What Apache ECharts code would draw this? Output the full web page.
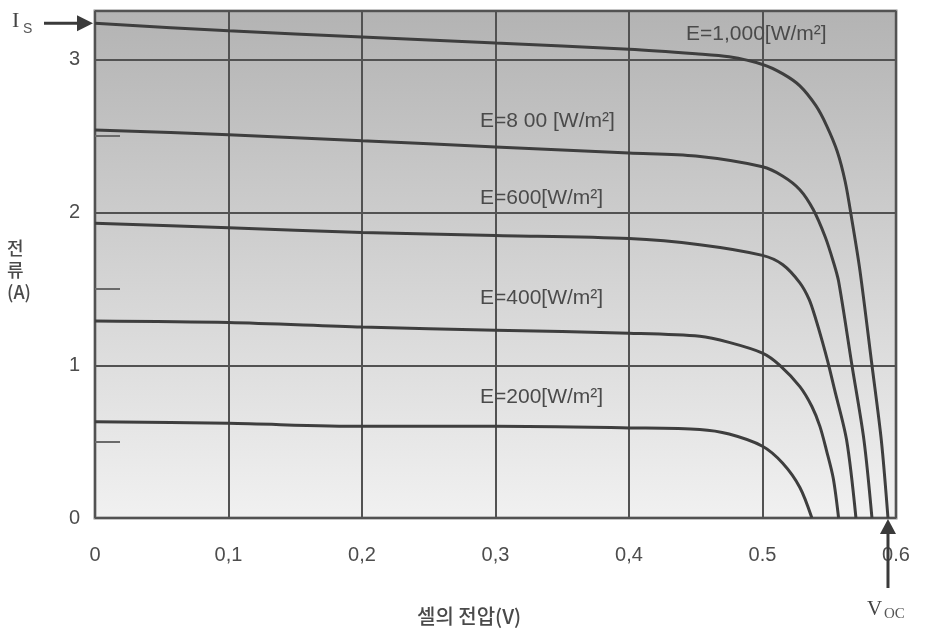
<!DOCTYPE html>
<html>
<head>
<meta charset="utf-8">
<script src="https://cdn.jsdelivr.net/npm/echarts@6/dist/echarts.min.js"></script>
<style>
html,body{margin:0;padding:0;background:#fff;}
#chart{width:932px;height:633px;}
</style>
</head>
<body>
<div id="chart"></div>
<script>
// ---- data ----
const xTickLabels = ['0', '0,1', '0,2', '0,3', '0,4', '0.5', '0.6'];
const yTickLabels = ['0', '1', '2', '3'];

const v1000 = [0, 0.1, 0.2, 0.3, 0.4, 0.45, 0.475, 0.5, 0.515, 0.528, 0.54, 0.548, 0.556, 0.562, 0.567, 0.573, 0.582, 0.589, 0.594];
const i1000 = [3.24, 3.19, 3.15, 3.11, 3.07, 3.04, 3.02, 2.97, 2.91, 2.83, 2.70, 2.57, 2.40, 2.20, 1.95, 1.62, 1.0, 0.51, 0];

const v800 = [0, 0.1, 0.2, 0.3, 0.4, 0.45, 0.5, 0.515, 0.528, 0.538, 0.547, 0.553, 0.557, 0.567, 0.576, 0.582];
const i800 = [2.54, 2.51, 2.47, 2.43, 2.39, 2.37, 2.30, 2.24, 2.15, 2.02, 1.84, 1.68, 1.55, 1.0, 0.51, 0];

const v600 = [0, 0.1, 0.2, 0.3, 0.4, 0.453, 0.5, 0.515, 0.528, 0.535, 0.54, 0.545, 0.549, 0.554, 0.563, 0.57];
const i600 = [1.93, 1.90, 1.87, 1.85, 1.83, 1.79, 1.72, 1.66, 1.54, 1.43, 1.30, 1.15, 1.02, 0.84, 0.51, 0];

const v400 = [0, 0.1, 0.2, 0.3, 0.4, 0.453, 0.475, 0.5, 0.513, 0.528, 0.537, 0.543, 0.548, 0.553, 0.557];
const i400 = [1.29, 1.28, 1.25, 1.23, 1.21, 1.19, 1.15, 1.08, 1.00, 0.86, 0.73, 0.60, 0.44, 0.26, 0];

const v200 = [0, 0.1, 0.2, 0.3, 0.4, 0.453, 0.475, 0.5, 0.515, 0.528, 0.537];
const i200 = [0.63, 0.62, 0.60, 0.60, 0.59, 0.58, 0.55, 0.47, 0.36, 0.20, 0];

const curveLabels = ['E=1,000[W/m²]', 'E=8 00 [W/m²]', 'E=600[W/m²]', 'E=400[W/m²]', 'E=200[W/m²]'];
const isValue = i1000[0];
const vocValue = v1000[v1000.length - 1];

// ---- build ----
function zip(v, i) { return v.map((x, k) => [x, i[k]]); }
const curves = [zip(v1000, i1000), zip(v800, i800), zip(v600, i600), zip(v400, i400), zip(v200, i200)];

const chart = echarts.init(document.getElementById('chart'), null, {renderer: 'canvas'});
const textColor = '#4d4d4d';
const baseFont = 'Liberation Sans, Arial, sans-serif';

const series = curves.map((d, k) => ({
  type: 'line',
  name: curveLabels[k],
  data: d,
  smooth: 0.3,
  showSymbol: false,
  symbol: 'none',
  lineStyle: {color: '#3e3e3e', width: 3},
  z: 5,
  silent: true
}));

const option = {
  animation: false,
  backgroundColor: '#ffffff',
  grid: {
    left: 95, top: 11, right: 36, bottom: 115,
    show: true,
    borderColor: '#8a8a8a',
    borderWidth: 3,
    backgroundColor: new echarts.graphic.LinearGradient(0, 0, 0, 1, [
      {offset: 0, color: '#b3b3b3'},
      {offset: 1, color: '#f1f1f1'}
    ])
  },
  xAxis: {
    type: 'value',
    min: 0, max: 0.6, interval: 0.1,
    axisLine: {show: false},
    axisTick: {show: false},
    splitLine: {show: true, lineStyle: {color: '#525252', width: 2}},
    axisLabel: {
      margin: 27,
      color: textColor,
      fontSize: 20,
      fontFamily: baseFont,
      formatter: v => xTickLabels[Math.round(v / 0.1)]
    }
  },
  yAxis: [{
    type: 'value',
    min: 0, max: 3.32, interval: 1,
    axisLine: {show: false},
    axisTick: {show: false},
    splitLine: {show: true, lineStyle: {color: '#525252', width: 2}},
    axisLabel: {
      margin: 15,
      color: textColor,
      fontSize: 20,
      fontFamily: baseFont,
      showMaxLabel: false,
      formatter: v => (Math.abs(v - Math.round(v)) < 1e-6 ? yTickLabels[Math.round(v)] : '')
    }
  }, {
    type: 'value',
    position: 'left',
    min: 0, max: 3.32, interval: 0.5,
    axisLine: {show: false},
    axisLabel: {show: false},
    splitLine: {show: false},
    axisTick: {show: true, inside: true, length: 25, lineStyle: {color: '#6a6a6a', width: 2},
      customValues: [0.5, 1.5, 2.5]}
  }],
  series: series
};
chart.setOption(option);

// ---- annotations placed with the chart's own scales ----
const pIs = chart.convertToPixel({gridIndex: 0}, [0, isValue]);
const pVoc = chart.convertToPixel({gridIndex: 0}, [vocValue, 0]);
const gBottom = 518;

const labelPos = [[686, 36], [480, 123], [480, 200], [480, 300], [480, 399]];
const graphics = [];
curveLabels.forEach((t, k) => {
  graphics.push({
    type: 'text', left: labelPos[k][0], top: labelPos[k][1] - 12, z: 4,
    style: {text: t, fill: '#4a4a4a', font: '21px ' + baseFont}
  });
});
// Is arrow
graphics.push({type: 'line', z: 10, shape: {x1: 44, y1: pIs[1], x2: 80, y2: pIs[1]}, style: {stroke: '#3a3a3a', lineWidth: 3}});
graphics.push({type: 'polygon', z: 10, shape: {points: [[93, pIs[1]], [77, pIs[1] - 8], [77, pIs[1] + 8]]}, style: {fill: '#3a3a3a'}});
graphics.push({type: 'text', z: 10, left: 12, top: 10, style: {text: 'I', fill: '#444', font: '22px "Liberation Serif", "DejaVu Serif", serif'}});
graphics.push({type: 'text', z: 10, left: 23, top: 22, style: {text: 'S', fill: '#555', font: '14px ' + baseFont}});
// Voc arrow
graphics.push({type: 'line', z: 10, shape: {x1: pVoc[0], y1: 588, x2: pVoc[0], y2: gBottom + 12}, style: {stroke: '#3a3a3a', lineWidth: 3}});
graphics.push({type: 'polygon', z: 10, shape: {points: [[pVoc[0], gBottom + 1], [pVoc[0] - 8, gBottom + 16], [pVoc[0] + 8, gBottom + 16]]}, style: {fill: '#3a3a3a'}});
graphics.push({type: 'text', z: 10, left: pVoc[0] - 21, top: 599, style: {text: 'V', fill: '#444', font: '21px "Liberation Serif", "DejaVu Serif", serif'}});
graphics.push({type: 'text', z: 10, left: pVoc[0] - 4, top: 607, style: {text: 'OC', fill: '#555', font: '15px "Liberation Serif", "DejaVu Serif", serif'}});
// axis names
graphics.push({type: 'text', z: 10, left: 7, top: 237, style: {text: '전\n류\n(A)', fill: '#4a4a4a', font: '500 18px "Noto Sans CJK KR", sans-serif', lineHeight: 22, align: 'center', x: 14}});
graphics.push({type: 'text', z: 10, left: 417, top: 606, style: {text: '셀의 전압(V)', fill: '#4a4a4a', font: '500 20px "Noto Sans CJK KR", sans-serif'}});

chart.setOption({graphic: graphics});
</script>
</body>
</html>
